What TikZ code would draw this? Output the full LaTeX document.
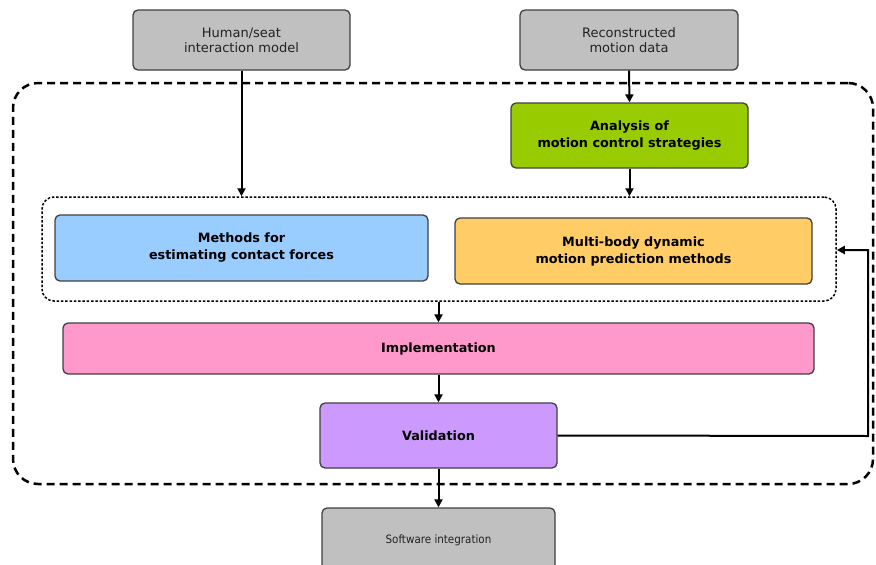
\documentclass[tikz,border=0pt]{standalone}
\usepackage{fontspec}
\setmainfont{DejaVu Sans}
\newfontfamily\condfont{DejaVu Sans Condensed}
\usetikzlibrary{arrows.meta}
\definecolor{cgray}{HTML}{C0C0C0}
\definecolor{cgreen}{HTML}{99CC00}
\definecolor{cblue}{HTML}{99CCFF}
\definecolor{corange}{HTML}{FFCC66}
\definecolor{cpink}{HTML}{FF99CC}
\definecolor{cpurple}{HTML}{CC99FF}
\definecolor{cborder}{HTML}{404040}
\definecolor{ctext}{HTML}{222222}
\begin{document}
\begin{tikzpicture}[x=1pt,y=-1pt,
  box/.style={draw=cborder, line width=1.3pt, rounded corners=5pt, align=center, inner sep=0pt},
  plain/.style={box, fill=cgray, text=ctext, font=\fontsize{13}{15}\selectfont},
  strong/.style={box, font=\fontsize{12.8}{17}\selectfont\bfseries},
  arr/.style={line width=2pt, -{Triangle[length=8pt,width=8pt]}},
  outer/.style={draw, line width=2.5pt, dash pattern=on 8pt off 5pt, rounded corners=25pt, inner sep=0pt},
  inner/.style={draw, line width=1.5pt, dash pattern=on 2.5pt off 1.8pt, rounded corners=12pt, inner sep=0pt}]
\useasboundingbox (0,0) rectangle (876,565);
\node[outer, minimum width=860pt, minimum height=401pt] (out) at (443,283.5) {};
\node[inner, minimum width=794pt, minimum height=104pt] (inn) at (439,249) {};
\node[plain, minimum width=217pt, minimum height=60pt] (hum) at (241.5,40) {Human/seat\\interaction model};
\node[plain, minimum width=218pt, minimum height=60pt] (rec) at (629,40) {Reconstructed\\motion data};
\node[strong, fill=cgreen, minimum width=237pt, minimum height=65pt] (ana) at (629.5,135.5) {Analysis of\\motion control strategies};
\node[strong, fill=cblue, minimum width=373pt, minimum height=66pt] (met) at (241.5,248) {Methods for\\estimating contact forces};
\node[strong, fill=corange, minimum width=357pt, minimum height=66pt] (mul) at (633.5,251) {Multi-body dynamic\\motion prediction methods};
\node[strong, fill=cpink, minimum width=751pt, minimum height=51pt] (imp) at (438.5,348.5) {Implementation};
\node[strong, fill=cpurple, minimum width=237pt, minimum height=65pt] (val) at (438.5,435.5) {Validation};
\node[plain, font=\condfont\fontsize{11.5}{13}\selectfont, minimum width=233pt, minimum height=64pt] (sof) at (438.5,540) {Software integration};
\draw[arr] (hum.south) -- (hum.south |- inn.north);
\draw[arr] (rec.south) -- (ana.north);
\draw[arr] (ana.south) -- (ana.south |- inn.north);
\draw[arr] (inn.south -| imp.north) -- (imp.north);
\draw[arr] (imp.south -| val.north) -- (val.north);
\draw[arr] (val.south) -- (sof.north);
\coordinate (c1) at (868,436);
\coordinate (c2) at (868,250);
\draw[arr] (val.east) -- (c1) -- (c2) -- (inn.east |- c2);
\end{tikzpicture}
\end{document}
